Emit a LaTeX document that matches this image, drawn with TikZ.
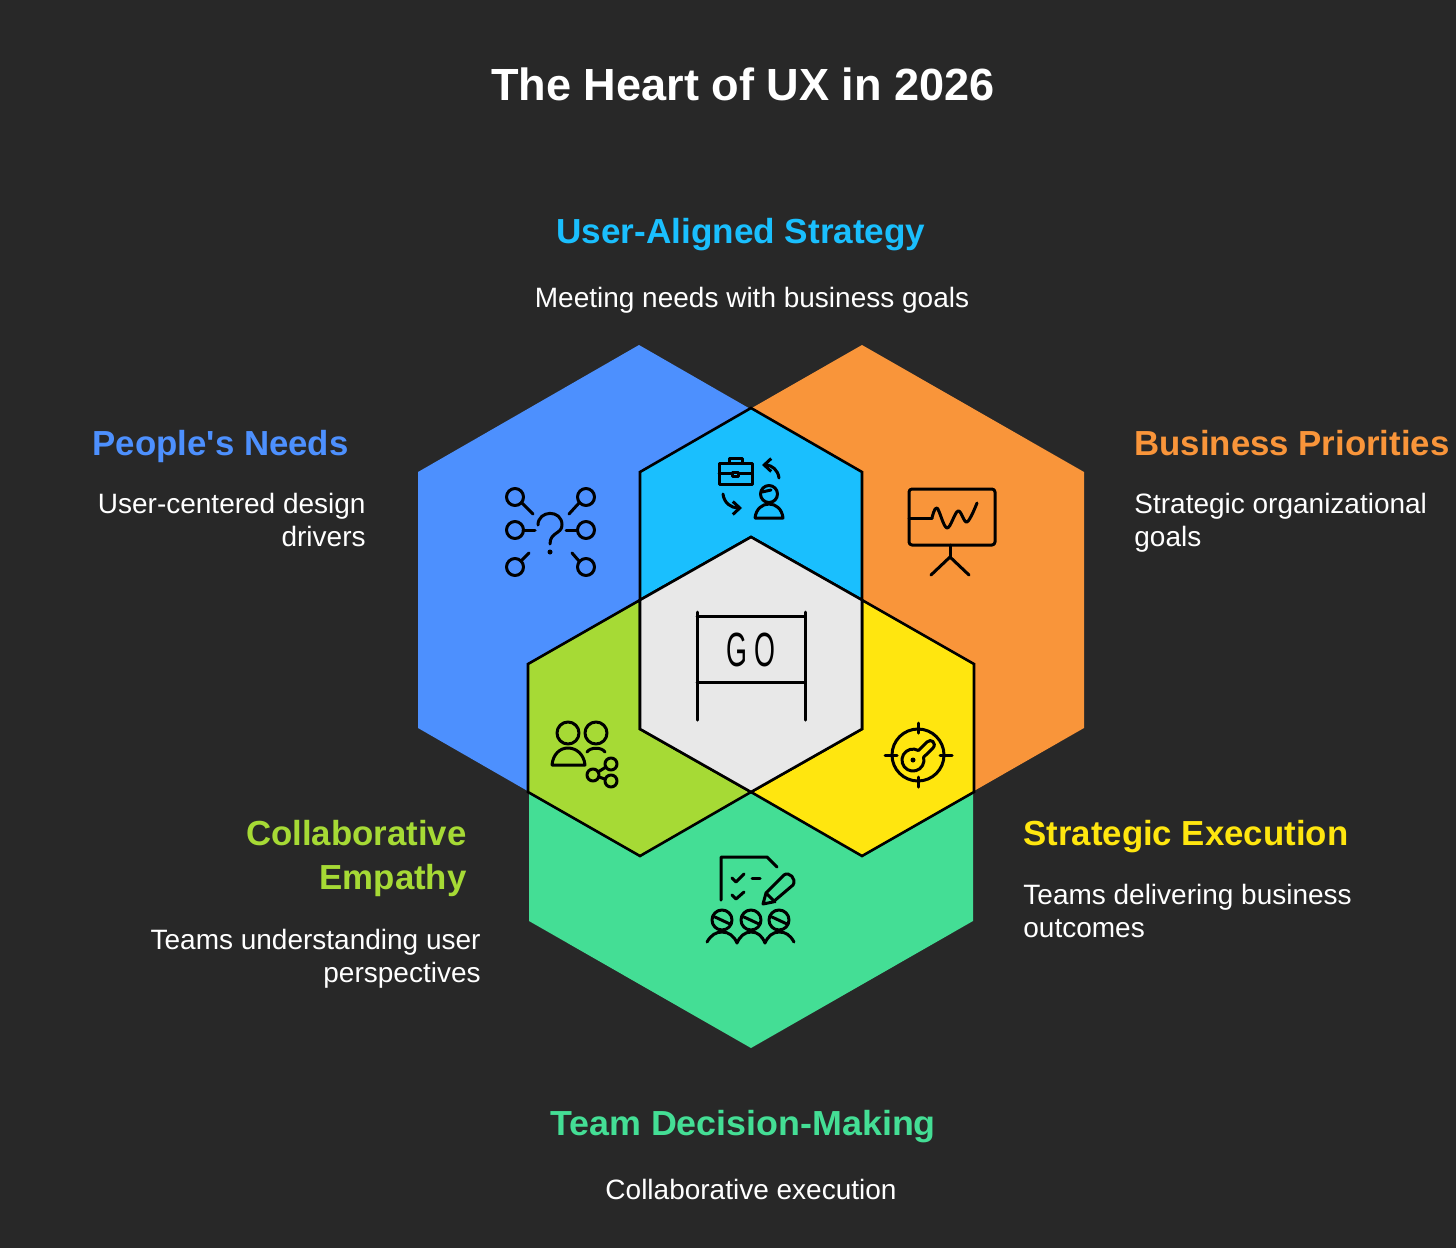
\documentclass[tikz,border=0pt]{standalone}
\usepackage{fontspec}
\setmainfont{Liberation Sans}[Ligatures=TeXOff]

\definecolor{bgdark}{HTML}{282828}
\definecolor{needblue}{HTML}{4D90FE}
\definecolor{bizorange}{HTML}{F9953A}
\definecolor{alignblue}{HTML}{1ABFFE}
\definecolor{teamgreen}{HTML}{44DE95}
\definecolor{execyellow}{HTML}{FFE60F}
\definecolor{empathylime}{HTML}{A6DA35}
\definecolor{coregray}{HTML}{E8E8E8}

\tikzset{
    titletext/.style={font=\fontsize{22.55}{27}\selectfont\bfseries, text=white, inner sep=0pt},
    headtext/.style={font=\fontsize{17.4}{22.3}\selectfont\bfseries, inner sep=0pt},
    desctext/.style={font=\fontsize{14}{16.75}\selectfont, text=white, inner sep=0pt},
    lens/.style={draw=black, line width=1.3pt, line join=miter},
    icon/.style={draw=black, line width=1.5pt, line cap=round, line join=round},
    tipline/.style={icon, -{Straight Barb[length=3.5pt,width=6.5pt]}},
}
\usetikzlibrary{arrows.meta}

\begin{document}
\begin{tikzpicture}[x=0.5pt, y=-0.5pt]
    % Background
    \fill[bgdark] (0,0) rectangle (1456,1248);
    \useasboundingbox (0,0) rectangle (1456,1248);

    % Draw large hexagons
    \fill[needblue] (639,345) -- (860,472) -- (860,728) -- (639,855) -- (418,728) -- (418,472) -- cycle;
    \fill[bizorange] (862,345) -- (1084,472) -- (1084,728) -- (862,855) -- (640,728) -- (640,472) -- cycle;
    \fill[teamgreen] (751,538) -- (973,665) -- (973,921) -- (751,1048) -- (529,921) -- (529,665) -- cycle;

    % Draw overlaps
    \filldraw[lens, fill=alignblue] (751,408) -- (862,472) -- (862,600) -- (751,537) -- (640,600) -- (640,472) -- cycle;
    \filldraw[lens, fill=execyellow] (862,600) -- (974,664) -- (974,792) -- (862,856) -- (751,792) -- (862,729) -- cycle;
    \filldraw[lens, fill=empathylime] (640,600) -- (640,729) -- (751,792) -- (640,856) -- (528,792) -- (528,664) -- cycle;
    \filldraw[lens, fill=coregray] (751,537) -- (862,600) -- (862,729) -- (751,792) -- (640,729) -- (640,600) -- cycle;

    % Title
    \node[titletext] (title) at (743,84) {The Heart of UX in 2026};

    % Labels
    \node[headtext, text=alignblue, xscale=1.01] (aligned) at (741,235) {User-Aligned Strategy};
    \node[desctext] (aligneddesc) at (752,300) {Meeting needs with business goals};
    \node[headtext, text=needblue, anchor=east] (needs) at (349,446) {People's Needs};
    \node[desctext, anchor=east, align=right] (needsdesc) at (366,520) {User-centered design\\drivers};
    \node[headtext, text=bizorange, anchor=west] (business) at (1134,443) {Business Priorities};
    \node[desctext, anchor=west, align=left] (businessdesc) at (1134,523) {Strategic organizational\\goals};
    \node[headtext, text=execyellow, anchor=west] (execution) at (1023,837) {Strategic Execution};
    \node[desctext, anchor=west, align=left] (executiondesc) at (1023,911) {Teams delivering business\\outcomes};
    \node[headtext, text=empathylime, anchor=east, align=right] (empathy) at (467,858.5) {Collaborative\\Empathy};
    \node[desctext, anchor=east, align=right] (empathydesc) at (481,958.5) {Teams understanding user\\perspectives};
    \node[headtext, text=teamgreen, xscale=1.03] (team) at (743,1127) {Team Decision-Making};
    \node[desctext] (teamdesc) at (751,1189.5) {Collaborative execution};

    % Icon: question with branches
    \foreach \cx/\cy in {515/497, 586/497, 515/530, 586/530, 515/567, 586/567}
        \draw[icon] (\cx,\cy) circle[radius=8.5];
    \draw[icon] (522,503) -- (533,514);
    \draw[icon] (579,503) -- (569,514);
    \draw[icon] (523,530) -- (535,530);
    \draw[icon] (566,530) -- (577,530);
    \draw[icon] (521,561) -- (529,553);
    \draw[icon] (579,561) -- (572,553);
    \draw[icon] (538,525) .. controls (538,510) and (562,509) .. (562,525) .. controls (562,534) and (550,532) .. (550,544);
    \fill (550,552) circle[radius=2.5];

    % Icon: briefcase and person
    \draw[icon] (719,463) rectangle (752,484);
    \draw[icon] (729,463) -- (729,458) -- (742,458) -- (742,463);
    \draw[icon] (719,473) -- (732,473);
    \draw[icon] (738,473) -- (752,473);
    \draw[icon] (732,472) rectangle (738,476);
    \draw[tipline] (779,478) .. controls (778,470) and (772,465) .. (762,465);
    \draw[tipline] (723,494) .. controls (724,503) and (731,508) .. (742,508);
    \draw[icon] (769,494) circle[radius=8.5];
    \draw[icon] (762,492) -- (771,490);
    \draw[icon] (755,518) -- (783,518) .. controls (782,509) and (776,504) .. (769,504) .. controls (762,504) and (756,509) .. (755,518);

    % Icon: presentation board
    \draw[icon, rounded corners=1.5pt] (909,489) rectangle (995,545);
    \draw[icon] (909,518) -- (932,518);
    \draw[icon] plot[smooth, tension=0.6] coordinates {(932,518) (937,508) (947,528) (958,511) (967,522) (977,503)};
    \draw[icon] (950,545) -- (950,557);
    \draw[icon] (931,575) -- (950,557) -- (969,575);

    % Icon: start banner
    \draw[icon] (697,612) -- (697,720);
    \draw[icon] (805,612) -- (805,720);
    \draw[icon] (697,616) -- (805,616);
    \draw[icon] (697,682) -- (805,682);
    \node[font=\fontsize{24}{28}\selectfont, xscale=0.56] (go) at (751,650) {G O};

    % Icon: two people and share
    \draw[icon] (568,733) circle[radius=11];
    \draw[icon] (596,733) circle[radius=11];
    \draw[icon] (552,765) -- (585,765) .. controls (584,754) and (576,748) .. (568,748) .. controls (560,748) and (553,754) .. (552,765);
    \draw[icon] (587,752) .. controls (590,747) and (602,747) .. (605,752);
    \draw[icon] (593,775) circle[radius=6];
    \draw[icon] (611,764) circle[radius=6];
    \draw[icon] (611,781) circle[radius=6];
    \draw[icon] (598,772) -- (606,767);
    \draw[icon] (599,777) -- (605,779);

    % Icon: target and key
    \draw[icon] (918,755) circle[radius=26];
    \draw[icon] (885,755) -- (897,755);
    \draw[icon] (940,755) -- (952,755);
    \draw[icon] (918,723) -- (918,733);
    \draw[icon] (918,777) -- (918,787);
    \draw[icon] (918.5,750.5) -- (927,742) .. controls (931,738) and (937,743) .. (933,748) -- (923.6,757.2) arc[start angle=-15, end angle=300, radius=11];
    \fill (913,760) circle[radius=2.5];

    % Icon: checklist and team
    \draw[icon] (721,900) -- (721,857) -- (767,857) -- (777,867);
    \draw[icon] (732,878) -- (736,882) -- (744,874);
    \draw[icon] (752,878) -- (760,878);
    \draw[icon] (732,895) -- (736,899) -- (744,892);
    \draw[icon] (763,904) -- (766,893) -- (784,875) .. controls (789,871) and (797,879) .. (793,885) -- (773,902) -- cycle;
    \draw[icon] (766,893) -- (775,902);
    \foreach \hx in {722, 751, 779} {
        \draw[icon] (\hx,920) circle[radius=10];
        \draw[icon] (\hx-7,917) -- (\hx+8,924);
    }
    \draw[icon] (707,942) .. controls (711,935) and (716,932) .. (722,932) .. controls (729,932) and (734,936) .. (737,943)
        .. controls (740,936) and (745,932) .. (751,932) .. controls (758,932) and (762,936) .. (765,943)
        .. controls (768,936) and (773,932) .. (779,932) .. controls (786,932) and (790,935) .. (794,942);
\end{tikzpicture}
\end{document}
